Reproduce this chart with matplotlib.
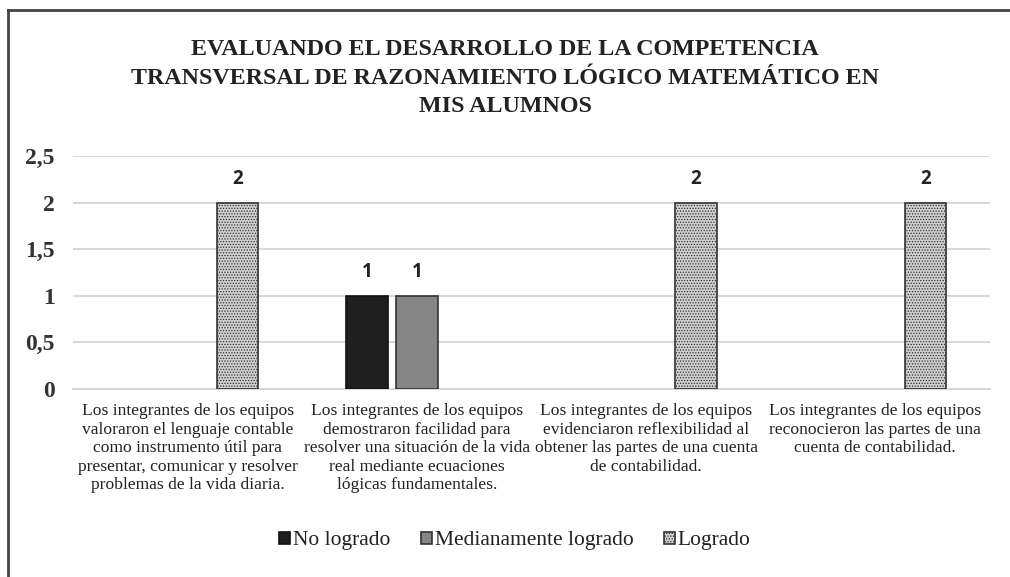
import numpy as np
import matplotlib
matplotlib.use("Agg")
from matplotlib import pyplot as plt
from matplotlib.lines import Line2D

# chart data
categories = [
    "Los integrantes de los equipos\nvaloraron el lenguaje contable\ncomo instrumento útil para\npresentar, comunicar y resolver\nproblemas de la vida diaria.",
    "Los integrantes de los equipos\ndemostraron facilidad para\nresolver una situación de la vida\nreal mediante ecuaciones\nlógicas fundamentales.",
    "Los integrantes de los equipos\nevidenciaron reflexibilidad al\nobtener las partes de una cuenta\nde contabilidad.",
    "Los integrantes de los equipos\nreconocieron las partes de una\ncuenta de contabilidad.",
]
series_names = ["No logrado", "Medianamente logrado", "Logrado"]
no_logrado = [0, 1, 0, 0]
medianamente = [0, 1, 0, 0]
logrado = [2, 0, 2, 2]
y_ticks = [0, 0.5, 1, 1.5, 2, 2.5]
y_tick_labels = ["0", "0,5", "1", "1,5", "2", "2,5"]
title = ("EVALUANDO EL DESARROLLO DE LA COMPETENCIA\n"
         "TRANSVERSAL DE RAZONAMIENTO LÓGICO MATEMÁTICO EN\n"
         "MIS ALUMNOS")

serif = "Liberation Serif"
plt.rcParams["hatch.linewidth"] = 0.6

fig = plt.figure(figsize=(10.10, 5.77), dpi=100)
ax = fig.add_axes([73 / 1010, 1 - 389 / 577, (990 - 73) / 1010, (389 - 156) / 577])

x = np.arange(len(categories))
w = 0.18
step = 0.218
styles = [
    dict(color="#1f1f1f", edgecolor="#111111"),
    dict(color="#858585", edgecolor="#333333"),
    dict(color="#cfcfcf", edgecolor="#333333", hatch="......"),
]
data = [no_logrado, medianamente, logrado]
for i, (vals, st) in enumerate(zip(data, styles)):
    vals = np.array(vals, dtype=float)
    keep = vals > 0
    xs = x[keep] + (i - 1) * step
    ax.bar(xs, vals[keep], w, label=series_names[i], linewidth=1.2, zorder=3, **st)
    for xi, v in zip(xs, vals[keep]):
        ax.text(xi, v + 0.25, "%d" % v, ha="center", va="center",
                fontsize=13.5, fontweight="bold", family="Open Sans", color="#222222")

ax.set_ylim(0, 2.5)
ax.set_xlim(-0.5, 3.5)
ax.set_yticks(y_ticks)
ax.set_yticklabels(y_tick_labels, family=serif, fontweight="bold", fontsize=17, color="#333333")
ax.set_xticks(x)
ax.set_xticklabels(categories, family=serif, fontsize=12.6, color="#222222", linespacing=1.22)
ax.tick_params(axis="both", length=0)
ax.tick_params(axis="y", pad=13)
ax.tick_params(axis="x", pad=10)
ax.grid(axis="y", color="#d6d6d6", linewidth=1.3, zorder=0)
for s in ["top", "right", "left"]:
    ax.spines[s].set_visible(False)
ax.spines["bottom"].set_color("#d6d6d6")
ax.spines["bottom"].set_linewidth(1.3)

fig.text(0.5, 1 - 78 / 577, title, ha="center", va="center", family=serif,
         fontweight="bold", fontsize=17.3, color="#222222", linespacing=1.48)

leg = fig.legend(loc="center", bbox_to_anchor=(0.51, 1 - 541 / 577), ncol=3,
                 frameon=False, prop=dict(family=serif, size=15.5),
                 handlelength=0.5, handleheight=0.5, handletextpad=0.15,
                 columnspacing=1.4)
for t in leg.get_texts():
    t.set_color("#222222")

# outer frame (top and left edges visible)
fig.add_artist(Line2D([8 / 1010, 1], [1 - 10 / 577, 1 - 10 / 577],
                      color="#444444", linewidth=2, transform=fig.transFigure))
fig.add_artist(Line2D([8 / 1010, 8 / 1010], [0, 1 - 10 / 577],
                      color="#444444", linewidth=2, transform=fig.transFigure))

fig.savefig("out.png", dpi=100)
